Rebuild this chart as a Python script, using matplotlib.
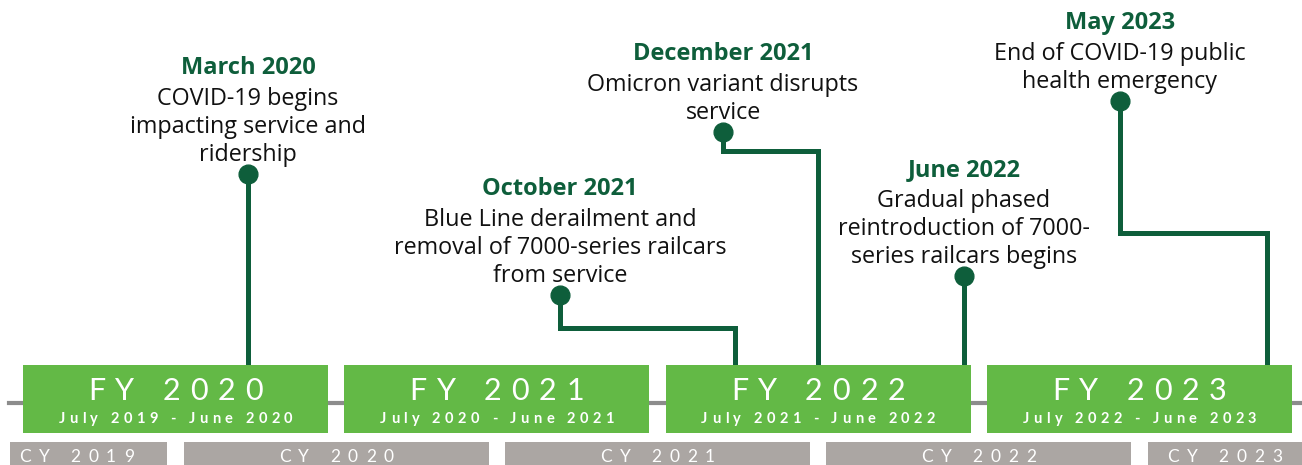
import matplotlib
matplotlib.use("Agg")
import matplotlib.pyplot as plt
from matplotlib.font_manager import FontProperties
from matplotlib.transforms import offset_copy

# fiscal years (x in months since July 2019)
fy_labels = ["FY 2020", "FY 2021", "FY 2022", "FY 2023"]
fy_ranges = ["July 2019 - June 2020", "July 2020 - June 2021",
             "July 2021 - June 2022", "July 2022 - June 2023"]
fy_start = [0, 12, 24, 36]

# calendar years
cy_labels = ["CY 2019", "CY 2020", "CY 2021", "CY 2022", "CY 2023"]
cy_start = [-6, 6, 18, 30, 42]

# events
event_titles = ["March 2020", "October 2021", "December 2021", "June 2022", "May 2023"]
event_texts = [
    "COVID-19 begins\nimpacting service and\nridership",
    "Blue Line derailment and\nremoval of 7000-series railcars\nfrom service",
    "Omicron variant disrupts\nservice",
    "Gradual phased\nreintroduction of 7000-\nseries railcars begins",
    "End of COVID-19 public\nhealth emergency",
]
event_month = [8.4, 26.6, 29.7, 35.1, 46.45]

# callout layout (label x in months, heights in px from top)
label_month = [8.4, 20.05, 26.14, 35.14, 40.96]
dot_y = [174, 295, 132, 276, 101]
elbow_y = [None, 328, 151, None, 233]

GREEN = "#63b946"
DARK = "#0e5e3b"
GREY = "#aba6a3"
LINE_GREY = "#8c8c8c"
BAR_W = 11.39
FONT = "Lato"
EVENT_FONT = "Open Sans"

fig = plt.figure(figsize=(13.02, 4.65), dpi=100)
ax = fig.add_axes([0, 0, 1, 1])
ax.set_xlim(-0.859, 47.76)
ax.set_ylim(465, 0)
ax.axis("off")
renderer = fig.canvas.get_renderer()


def tracked_text(x, y, s, tracking, size, weight="normal", color="white"):
    fp = FontProperties(family=FONT, size=size, weight=weight)

    def width(t):
        return renderer.get_text_width_height_descent(t, fp, ismath=False)[0]

    space_w = width("x x") - width("xx")
    widths = [space_w if ch == " " else width(ch) for ch in s]
    total = sum(widths) + tracking * (len(s) - 1)
    off = -total / 2
    for ch, w in zip(s, widths):
        if ch != " ":
            tr = offset_copy(ax.transData, fig=fig, x=off, y=0, units="dots")
            ax.text(x, y, ch, transform=tr, ha="left", va="baseline",
                    fontproperties=fp, color=color, zorder=5)
        off += w + tracking


# grey axis line
ax.plot([-0.52, 48], [403, 403], color=LINE_GREY, lw=3, zorder=1)

# connectors and dots
for lm, em, dy, ey in zip(label_month, event_month, dot_y, elbow_y):
    if ey is None:
        xs, ys = [lm, lm], [dy, 380]
    else:
        xs, ys = [lm, lm, em, em], [dy, ey, ey, 380]
    ax.plot(xs, ys, color=DARK, lw=3.6, solid_joinstyle="miter",
            solid_capstyle="butt", zorder=2)
    ax.plot(lm, dy, "o", ms=13.5, color=DARK, zorder=3)

# event labels
for lm, dy, title, text in zip(label_month, dot_y, event_titles, event_texts):
    lines = text.split("\n")
    n = len(lines)
    for i, line in enumerate(lines):
        ax.text(lm, dy - 13 - 28 * (n - 1 - i), line, ha="center", va="baseline",
                family=EVENT_FONT, fontsize=16.8, color="#111111")
    ax.text(lm, dy - 13 - 28 * (n - 1) - 31, title, ha="center", va="baseline",
            family=EVENT_FONT, fontsize=17, fontweight="bold", color=DARK)

# fiscal year boxes
ax.broken_barh([(s, BAR_W) for s in fy_start], (365, 68), facecolors=GREEN, zorder=4)
for s, lab, rng in zip(fy_start, fy_labels, fy_ranges):
    cx = s + BAR_W / 2
    tracked_text(cx, 400, lab, 10, 22)
    tracked_text(cx, 423, rng, 4.5, 10.5, weight="bold")

# calendar year bars
x_left, x_right = ax.get_xlim()
for s, lab in zip(cy_start, cy_labels):
    left = max(s, -0.49)
    right = s + BAR_W
    ax.broken_barh([(left, right - left)], (442, 30), facecolors=GREY, zorder=4)
    cx = (left + min(right, x_right)) / 2
    if s < 0:
        cx -= 0.45  # first label sits a little left in the clipped bar
    tracked_text(cx, 462, lab, 8, 12.5)

fig.savefig("out.png", dpi=100)
